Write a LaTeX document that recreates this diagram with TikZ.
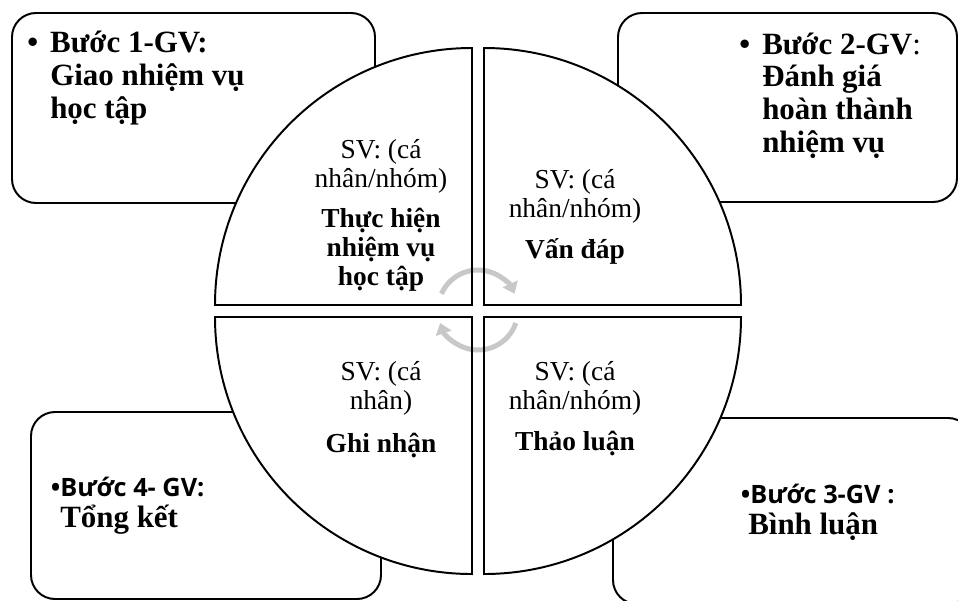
\documentclass[tikz,border=0pt]{standalone}
\usepackage{fontspec}
\setmainfont{Liberation Serif}
\newfontfamily\stepfont{Open Sans}
\usepackage{tikz}
\usetikzlibrary{arrows.meta}
\definecolor{spingray}{RGB}{200,200,200}
\tikzset{
  stepbox/.style={draw, line width=1.4pt, rounded corners=0.6cm},
  quarter/.style={line width=1.4pt},
  spin/.style={draw=spingray, line width=0.125cm,
    -{Triangle[length=0.27cm,width=0.4cm]}},
  boxtext/.style={align=left, anchor=base west, inner sep=0pt,
    font=\bfseries\fontsize{22}{23.2}\selectfont},
  quadtext/.style={align=center, anchor=base, inner sep=0pt,
    font=\fontsize{19.5}{20.3}\selectfont}
}

\begin{document}
\begin{tikzpicture}[x=0.025cm, y=-0.025cm]
\clip (0,0) rectangle (958,600);
% teacher boxes
\draw[stepbox] (12,13) rectangle (375,203); %B1
\draw[stepbox] (618,13) rectangle (957,202); %B2
\draw[stepbox] (613,418) rectangle (972,604); %B3
\draw[stepbox] (31,412) rectangle (381,599); %B4
% the four quarters
\fill[white] (472,305) -- ++(-257,0) arc (180:270:257) -- cycle; %TL
\fill[white] (484,305) -- ++(0,-257) arc (270:360:257) -- cycle; %TR
\fill[white] (484,317) -- ++(257,0) arc (0:90:257) -- cycle; %BR
\fill[white] (472,317) -- ++(0,257) arc (90:180:257) -- cycle; %BL
% cycle arrows
\coordinate (mid) at (478,310);
\draw[spin] (mid) ++(-156:40) arc (-156:-24:40);
\draw[spin] (mid) ++(19:40) arc (19:161:40);
\draw[quarter] (472,305) -- ++(-257,0) arc (180:270:257) -- cycle;
\draw[quarter] (484,305) -- ++(0,-257) arc (270:360:257) -- cycle;
\draw[quarter] (484,317) -- ++(257,0) arc (0:90:257) -- cycle;
\draw[quarter] (472,317) -- ++(0,257) arc (90:180:257) -- cycle;
% box texts (base = last line)
\node[boxtext] (step1) at (50,118)
  {\llap{\textbullet\hspace{0.3cm}}Bước 1-GV:\\Giao nhiệm vụ\\học tập};
\node[boxtext] (step2) at (762,152)
  {\llap{\textbullet\hspace{0.3cm}}Bước 2-GV\mdseries:\\\bfseries Đánh giá\\hoàn thành\\nhiệm vụ};
\node[boxtext, font=\bfseries\fontsize{22}{22}\selectfont] (step3) at (750,534)
  {\llap{\stepfont\fontsize{18}{22}\selectfont\textbullet}{\stepfont\fontsize{18}{22}\selectfont Bước 3-GV :}\\\hspace*{-0.05cm}Bình luận};
\node[boxtext, font=\bfseries\fontsize{22}{22}\selectfont] (step4) at (60,527)
  {\llap{\stepfont\fontsize{18}{22}\selectfont\textbullet}{\stepfont\fontsize{18}{22}\selectfont Bước 4- GV:}\\Tổng kết};
% student texts
\node[quadtext] (work) at (381,285)
  {SV: (cá\\nhân/nhóm)\\[8.5pt]\textbf{Thực hiện}\\\textbf{nhiệm vụ}\\\textbf{học tập}};
\node[quadtext] (ask) at (575,258)
  {SV: (cá\\nhân/nhóm)\\[8.5pt]\textbf{Vấn đáp}};
\node[quadtext] (talk) at (575,450)
  {SV: (cá\\nhân/nhóm)\\[8.5pt]\textbf{Thảo luận}};
\node[quadtext] (note) at (381,452)
  {SV: (cá\\nhân)\\[10pt]\textbf{Ghi nhận}};
\end{tikzpicture}
\end{document}
